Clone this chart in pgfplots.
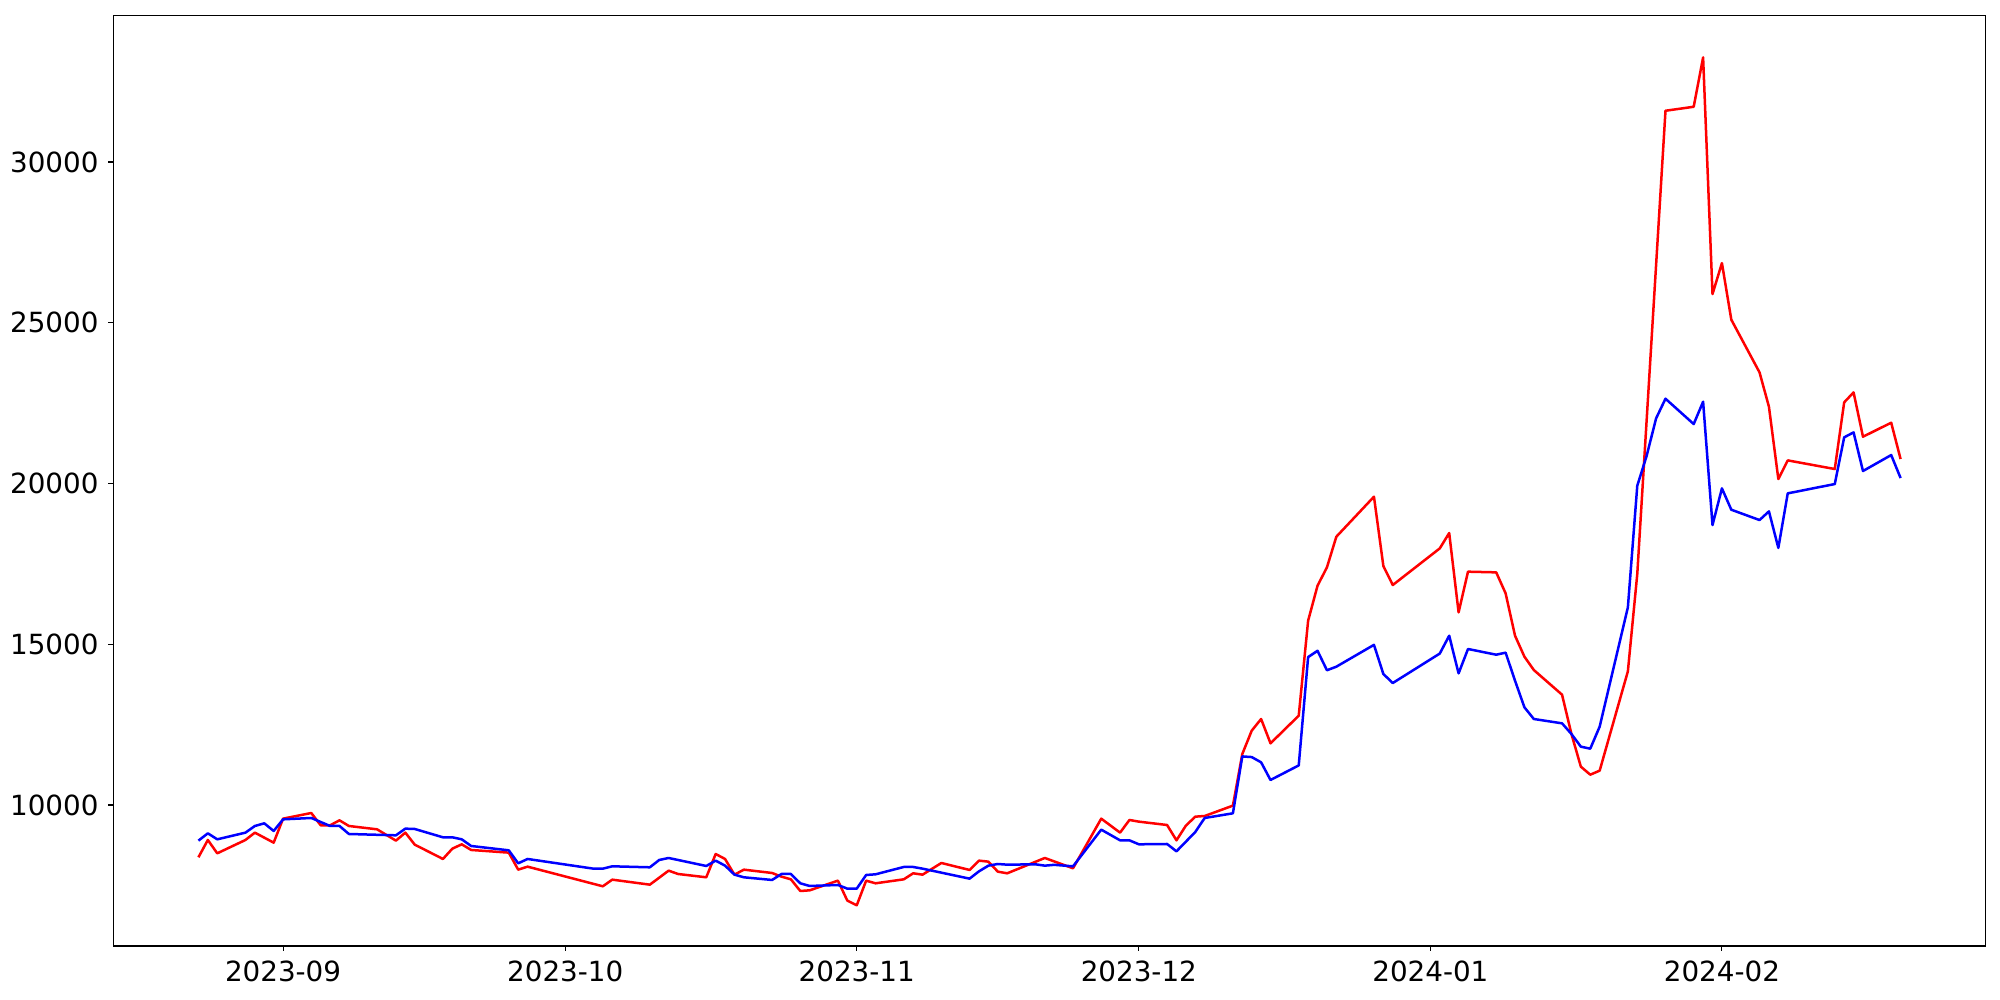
\documentclass[border=0pt]{standalone}
\usepackage{pgfplots}
\pgfplotsset{compat=1.18}
\usepackage{fontspec}
\setmainfont{DejaVu Sans}
\pgfplotstableread{
d v
-9 8890
-8 9118
-7 8931
-4 9139
-3 9346
-2 9429
-1 9191
0 9553
3 9595
5 9346
6 9346
7 9097
12 9056
13 9263
14 9253
17 8994
18 8994
19 8931
20 8724
24 8589
25 8185
26 8320
33 8019
34 8019
35 8092
39 8061
40 8289
41 8351
45 8102
46 8268
47 8112
48 7832
49 7750
52 7667
53 7853
54 7853
55 7563
56 7480
59 7511
60 7397
61 7397
62 7822
63 7843
66 8071
67 8071
68 8019
73 7708
74 7936
75 8112
76 8164
77 8143
80 8154
81 8112
82 8138
84 8091
87 9232
89 8900
90 8900
91 8776
94 8786
95 8558
97 9159
98 9595
101 9740
102 11510
103 11490
104 11326
105 10777
108 11230
109 14600
110 14795
111 14190
112 14301
116 14980
117 14073
118 13793
123 14710
124 15265
125 14094
126 14851
129 14674
130 14737
131 13866
132 13037
133 12674
136 12539
137 12207
138 11813
139 11751
140 12435
143 16146
144 19930
145 20863
146 22024
147 22636
150 21848
151 22543
152 18707
153 19847
154 19183
157 18862
158 19132
159 17996
160 19692
165 19982
166 21434
167 21589
168 20387
171 20884
172 20169
}\blueseries
\pgfplotstableread{
d v
-9 8372
-8 8911
-7 8496
-4 8911
-3 9139
-1 8828
0 9574
3 9750
4 9367
5 9367
6 9522
7 9346
10 9242
12 8890
13 9139
14 8766
17 8320
18 8641
19 8776
20 8600
24 8517
25 7988
26 8081
34 7470
35 7677
39 7521
41 7957
42 7853
45 7750
46 8475
47 8320
48 7832
49 7988
52 7884
53 7770
54 7687
55 7324
56 7345
59 7646
60 7024
61 6879
62 7646
63 7563
66 7687
67 7874
68 7832
70 8195
73 7978
74 8268
75 8237
76 7926
77 7874
81 8351
84 8030
87 9574
89 9139
90 9533
91 9481
94 9377
95 8900
96 9357
97 9636
98 9657
101 9979
102 11585
103 12310
104 12674
105 11917
108 12777
109 15732
110 16820
111 17391
112 18344
116 19588
117 17432
118 16841
123 17981
124 18458
125 15991
126 17256
129 17235
130 16582
131 15265
132 14612
133 14197
136 13430
137 12207
138 11191
139 10942
140 11067
143 14156
144 17183
147 31593
150 31717
151 33252
152 25891
153 26855
154 25093
157 23455
158 22387
159 20137
160 20718
165 20449
166 22522
167 22833
168 21454
171 21890
172 20760
}\redseries
\begin{document}
\begin{tikzpicture}
\path[use as bounding box] (-81.6pt,-38.9pt) rectangle (1358.4pt,681.1pt);
\begin{axis}[
  at={(0pt,0pt)}, anchor=south west,
  width=1348.1pt, height=670.1pt, scale only axis,
  xmin=-18.05, xmax=181.05, ymin=5614, ymax=34563,
  xtick={0,30,61,91,122,153},
  xticklabels={2023-09,2023-10,2023-11,2023-12,2024-01,2024-02},
  ytick={10000,15000,20000,25000,30000},
  yticklabels={10000,15000,20000,25000,30000},
  tick align=outside, major tick length=3.5pt,
  xtick pos=lower, ytick pos=left,
  tick style={black, line width=0.8pt},
  axis line style={line width=0.8pt},
  ticklabel style={font=\fontsize{20}{24}\selectfont, inner sep=0pt},
  xticklabel shift=7pt, yticklabel shift=7pt,
  clip=false,
]
\addplot[red, line width=1.8pt, line join=round] table[x=d,y=v]{\redseries};
\addplot[blue, line width=1.8pt, line join=round] table[x=d,y=v]{\blueseries};
\end{axis}
\end{tikzpicture}
\end{document}
